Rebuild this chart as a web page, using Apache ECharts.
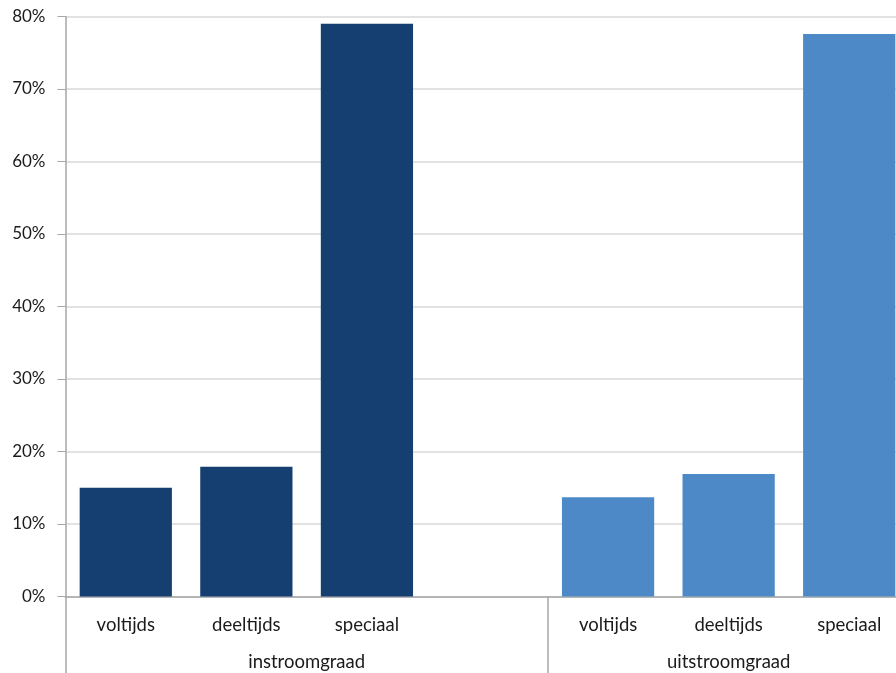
<!DOCTYPE html>
<html>
<head>
<meta charset="utf-8">
<script src="https://cdn.jsdelivr.net/npm/echarts@6/dist/echarts.min.js"></script>
<style>
  html, body { margin: 0; padding: 0; background: #ffffff; }
  #chart { width: 896px; height: 673px; }
</style>
</head>
<body>
<div id="chart"></div>
<script>
// Sub-categories along the bottom axis (one empty slot separates the two groups)
const categories = ['voltijds', 'deeltijds', 'speciaal', '', 'voltijds', 'deeltijds', 'speciaal'];
// Group labels and the slot positions they sit under
const groupNames = ['instroomgraad', 'uitstroomgraad'];
const groupCenters = [2, 5.5];
const groupBounds = [0, 4];
// Rates in percent
const instroom = [15.0, 17.9, 79.0, '-', '-', '-', '-'];
const uitstroom = ['-', '-', '-', '-', 13.7, 16.9, 77.6];
// Y-axis ticks
const yMin = 0, yMax = 80, yStep = 10;

const chart = echarts.init(document.getElementById('chart'), null, { renderer: 'canvas' });
const textColor = '#1a1a1a';
const axisGrey = '#a6a6a6';
const font = 'Lato, "Open Sans", sans-serif';

chart.setOption({
  animation: false,
  grid: {
    left: 65.5, top: 16.5, width: 844, height: 580,
    containLabel: false, outerBoundsMode: 'none'
  },
  xAxis: [
    {
      type: 'category',
      data: categories,
      boundaryGap: true,
      axisLine: { show: true, lineStyle: { color: axisGrey, width: 1.5 } },
      axisTick: { show: false },
      axisLabel: { color: textColor, fontFamily: font, fontSize: 18.5, margin: 19, interval: 0 }
    },
    {
      type: 'value',
      position: 'bottom',
      min: 0,
      max: categories.length,
      axisLine: { show: false },
      splitLine: { show: false },
      axisTick: {
        show: true,
        customValues: groupBounds,
        length: 78,
        lineStyle: { color: axisGrey, width: 1.5 }
      },
      axisLabel: {
        show: true,
        customValues: groupCenters,
        formatter: function (v) {
          const i = groupCenters.indexOf(v);
          return i >= 0 ? groupNames[i] : '';
        },
        color: textColor, fontFamily: font, fontSize: 18.5, margin: 56
      }
    }
  ],
  yAxis: {
    type: 'value',
    min: yMin,
    max: yMax,
    interval: yStep,
    axisLine: { show: true, lineStyle: { color: axisGrey, width: 1.5 } },
    axisTick: { show: true, length: 8, lineStyle: { color: axisGrey, width: 1 } },
    axisLabel: { formatter: '{value}%', color: textColor, fontFamily: font, fontSize: 17, margin: 20 },
    splitLine: { show: true, lineStyle: { color: '#d9d9d9', width: 1.5 } }
  },
  series: [
    {
      name: 'instroomgraad',
      type: 'bar',
      stack: 'rate',
      xAxisIndex: 0,
      data: instroom,
      barCategoryGap: '23.5%',
      itemStyle: { color: '#163f71' }
    },
    {
      name: 'uitstroomgraad',
      type: 'bar',
      stack: 'rate',
      xAxisIndex: 0,
      data: uitstroom,
      barCategoryGap: '23.5%',
      itemStyle: { color: '#4e89c7' }
    }
  ]
});
</script>
</body>
</html>
